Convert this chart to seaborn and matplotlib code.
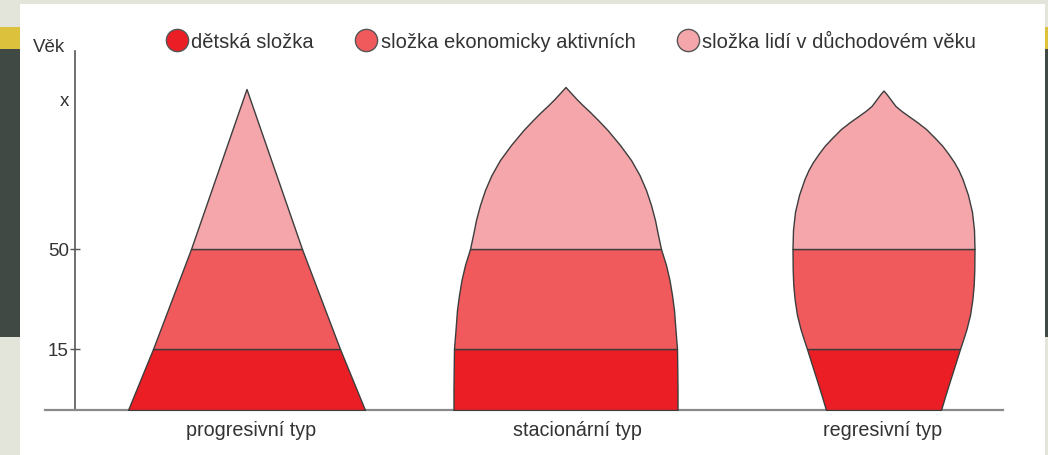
import numpy as np
import pandas as pd
import matplotlib.pyplot as plt
import seaborn as sns
from matplotlib.lines import Line2D
from matplotlib.patches import Rectangle

sns.set_style("white")
plt.rcParams["font.family"] = ["Liberation Sans", "DejaVu Sans"]

# ---------- data (schematic heights) ----------
types = ["progresivní typ", "stacionární typ", "regresivní typ"]
components = ["dětská složka", "složka ekonomicky aktivních", "složka lidí v důchodovém věku"]
age_labels = ["15", "50", "x"]
age_levels = [61, 161]          # heights of the 15 / 50 boundaries
x_level = 312                   # height of the "x" label

# half-width profiles: height -> half width
prog_h = [0, 61, 161, 321]
prog_w = [118.5, 93.5, 55.5, 0]

stac_h = [0, 20, 40, 61, 80, 100, 115, 130, 145, 161, 175, 190, 205, 220, 235, 250,
          265, 280, 290, 298, 305, 311, 317, 323]
stac_w = [112, 112, 111.8, 111.5, 110, 108.5, 106.5, 104, 100.5, 95.5, 92.5, 89.5, 85.5,
          80.5, 74, 65.5, 54.5, 42, 32.5, 24.5, 17, 11, 5.5, 0]

regr_h = [0, 15, 31, 46, 61, 70, 81, 95, 110, 125, 140, 161, 180, 198, 215, 231, 240,
          248, 256, 264, 272, 281, 288, 294, 299, 304, 308, 312, 316, 319.5]
regr_w = [57.5, 62, 67, 71.8, 76.5, 79.5, 83, 86.5, 88.8, 90.2, 90.8, 91, 90.5, 88.5,
          84.5, 79, 75, 70.5, 65, 59, 51.5, 42.5, 33.5, 25, 18, 12, 9, 6, 3, 0]

# ---------- style / layout ----------
W, H = 1048, 456
centers = [246.5, 565.5, 883.5]
label_x = [251, 577, 883]
colors = ["#ec1e25", "#f05a5d", "#f4a6aa"]
edge = "#3d3d3d"
text_col = "#333333"

fig = plt.figure(figsize=(W / 100, H / 100), dpi=100)
fig.patch.set_facecolor("#e3e4da")
# slide background behind the white panel
fig.add_artist(Rectangle((0, 1 - 50 / H), 1, 22 / H, transform=fig.transFigure,
                         facecolor="#dcc23c", edgecolor="none", zorder=-3))
fig.add_artist(Rectangle((0, 1 - 338 / H), 1, 288 / H, transform=fig.transFigure,
                         facecolor="#414945", edgecolor="none", zorder=-3))
fig.add_artist(Rectangle((20 / W, 0), 1025 / W, 1 - 5 / H, transform=fig.transFigure,
                         facecolor="white", edgecolor="none", zorder=-2))

ax = fig.add_axes([45 / W, 45 / H, 958 / W, 359 / H])
ax.patch.set_alpha(0)
ax.set_xlim(45, 1003)
ax.set_ylim(0, 359)

profiles = [(prog_h, prog_w), (stac_h, stac_w), (regr_h, regr_w)]
bounds = [0] + age_levels + [400]
for c, (hs, ws) in zip(centers, profiles):
    prof = pd.DataFrame({"h": hs, "w": ws})
    for i, col in enumerate(colors):
        band = prof[(prof["h"] >= bounds[i]) & (prof["h"] <= bounds[i + 1])]
        ax.fill_betweenx(band["h"], c - band["w"], c + band["w"],
                         facecolor=col, edgecolor=edge, linewidth=1.0,
                         joinstyle="round", zorder=3)

# axes
sns.despine(ax=ax, top=True, right=True)
ax.spines["left"].set_position(("data", 75))
ax.spines["left"].set_color("#555555")
ax.spines["left"].set_linewidth(1.2)
ax.spines["bottom"].set_color("#8a8a8a")
ax.spines["bottom"].set_linewidth(1.6)

ax.set_yticks(age_levels + [x_level], age_labels)
ax.tick_params(axis="y", direction="inout", length=7, width=1, color="#555555",
               labelsize=13.5, labelcolor=text_col, pad=1, left=True)
ax.yaxis.get_major_ticks()[2].tick1line.set_visible(False)

ax.set_xticks(label_x, types)
ax.tick_params(axis="x", length=0, labelsize=14.2, labelcolor=text_col, pad=7)

fig.text(33 / W, 1 - 47 / H, "Věk", fontsize=13.5, color=text_col, va="center")

handles = [Line2D([], [], marker="o", ls="", markersize=16, markerfacecolor=col,
                  markeredgecolor="#555555", markeredgewidth=1) for col in colors]
fig.legend(handles, components, ncol=3, loc="center", bbox_to_anchor=(571.5 / W, 1 - 43 / H),
           frameon=False, handletextpad=0.2, columnspacing=2.1, handlelength=1.0,
           fontsize=14.5, labelcolor=text_col)

fig.savefig("out.png", dpi=100, facecolor=fig.get_facecolor())
